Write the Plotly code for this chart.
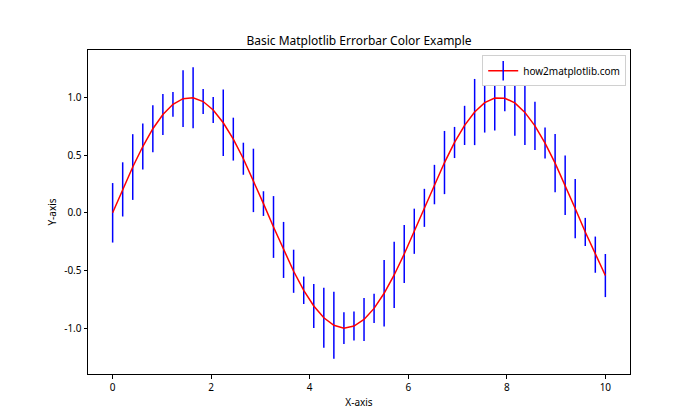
import plotly.graph_objects as go

# Data
x_vals = [0.000, 0.204, 0.408, 0.612, 0.816, 1.020, 1.224, 1.429, 1.633, 1.837,
          2.041, 2.245, 2.449, 2.653, 2.857, 3.061, 3.265, 3.469, 3.673, 3.878,
          4.082, 4.286, 4.490, 4.694, 4.898, 5.102, 5.306, 5.510, 5.714, 5.918,
          6.122, 6.327, 6.531, 6.735, 6.939, 7.143, 7.347, 7.551, 7.755, 7.959,
          8.163, 8.367, 8.571, 8.776, 8.980, 9.184, 9.388, 9.592, 9.796, 10.000]

y_vals = [0.000, 0.203, 0.397, 0.575, 0.729, 0.852, 0.941, 0.990, 0.998, 0.965,
          0.892, 0.781, 0.639, 0.469, 0.281, 0.080, -0.123, -0.322, -0.507, -0.672,
          -0.808, -0.910, -0.975, -1.000, -0.982, -0.925, -0.829, -0.698, -0.539, -0.357,
          -0.160, 0.043, 0.245, 0.436, 0.610, 0.758, 0.874, 0.955, 0.995, 0.994,
          0.953, 0.871, 0.754, 0.605, 0.431, 0.239, 0.037, -0.166, -0.363, -0.544]

y_err = [0.258, 0.235, 0.285, 0.199, 0.204, 0.178, 0.107, 0.246, 0.265, 0.109,
         0.113, 0.289, 0.186, 0.139, 0.275, 0.107, 0.268, 0.243, 0.187, 0.119,
         0.191, 0.261, 0.291, 0.138, 0.126, 0.187, 0.126, 0.289, 0.287, 0.252,
         0.196, 0.165, 0.171, 0.274, 0.135, 0.170, 0.287, 0.259, 0.282, 0.114,
         0.285, 0.283, 0.209, 0.135, 0.252, 0.257, 0.257, 0.122, 0.157, 0.187]

series_name = "how2matplotlib.com"
title_text = "Basic Matplotlib Errorbar Color Example"
x_ticks = [0, 2, 4, 6, 8, 10]
y_ticks = [-1.0, -0.5, 0.0, 0.5, 1.0]

FONT = "Noto Sans"

fig = go.Figure()

fig.add_trace(go.Scatter(
    x=x_vals, y=y_vals,
    mode="lines",
    line=dict(color="red", width=1.5),
    error_y=dict(type="data", array=y_err, visible=True,
                 color="blue", thickness=1.5, width=0),
    showlegend=False,
    hoverinfo="skip",
))

# legend entry (line + vertical error-bar glyph)
fig.add_trace(go.Scatter(
    x=[None], y=[None],
    mode="lines+markers",
    name=series_name,
    line=dict(color="red", width=1.5),
    marker=dict(symbol="line-ns", size=14, color="blue",
                line=dict(color="blue", width=1.5)),
))

fig.update_layout(
    width=700, height=420,
    margin=dict(l=88, r=70, t=50, b=46),
    paper_bgcolor="white",
    plot_bgcolor="white",
    font=dict(family=FONT, size=10, color="black"),
    title=dict(text=title_text, x=0.5, xref="paper",
               y=(420 - 41) / 420, yref="container", yanchor="middle",
               xanchor="center",
               font=dict(family=FONT, size=12, color="black")),
    legend=dict(x=0.993, y=0.984, xanchor="right", yanchor="top",
                bgcolor="white", bordercolor="#d0d0d0", borderwidth=1,
                font=dict(family=FONT, size=10, color="black"),
                itemwidth=30, tracegroupgap=0),
    xaxis=dict(
        range=[-0.5, 10.5],
        tickvals=x_ticks,
        ticktext=[str(v) for v in x_ticks],
        ticks="outside", ticklen=3.5, tickwidth=1, tickcolor="black",
        showline=True, mirror=True, linecolor="black", linewidth=1,
        showgrid=False, zeroline=False,
        title=dict(text="X-axis", standoff=6,
                   font=dict(family=FONT, size=10)),
    ),
    yaxis=dict(
        range=[-1.398, 1.412],
        tickvals=y_ticks,
        ticktext=[f"{v:.1f}" for v in y_ticks],
        ticks="outside", ticklen=3.5, tickwidth=1, tickcolor="black",
        showline=True, mirror=True, linecolor="black", linewidth=1,
        showgrid=False, zeroline=False,
        title=dict(text="Y-axis", standoff=5,
                   font=dict(family=FONT, size=10)),
    ),
)

fig.write_html("out.html",
               config={"displayModeBar": False},
               post_script="document.body.style.margin='0';document.body.style.padding='0';")
